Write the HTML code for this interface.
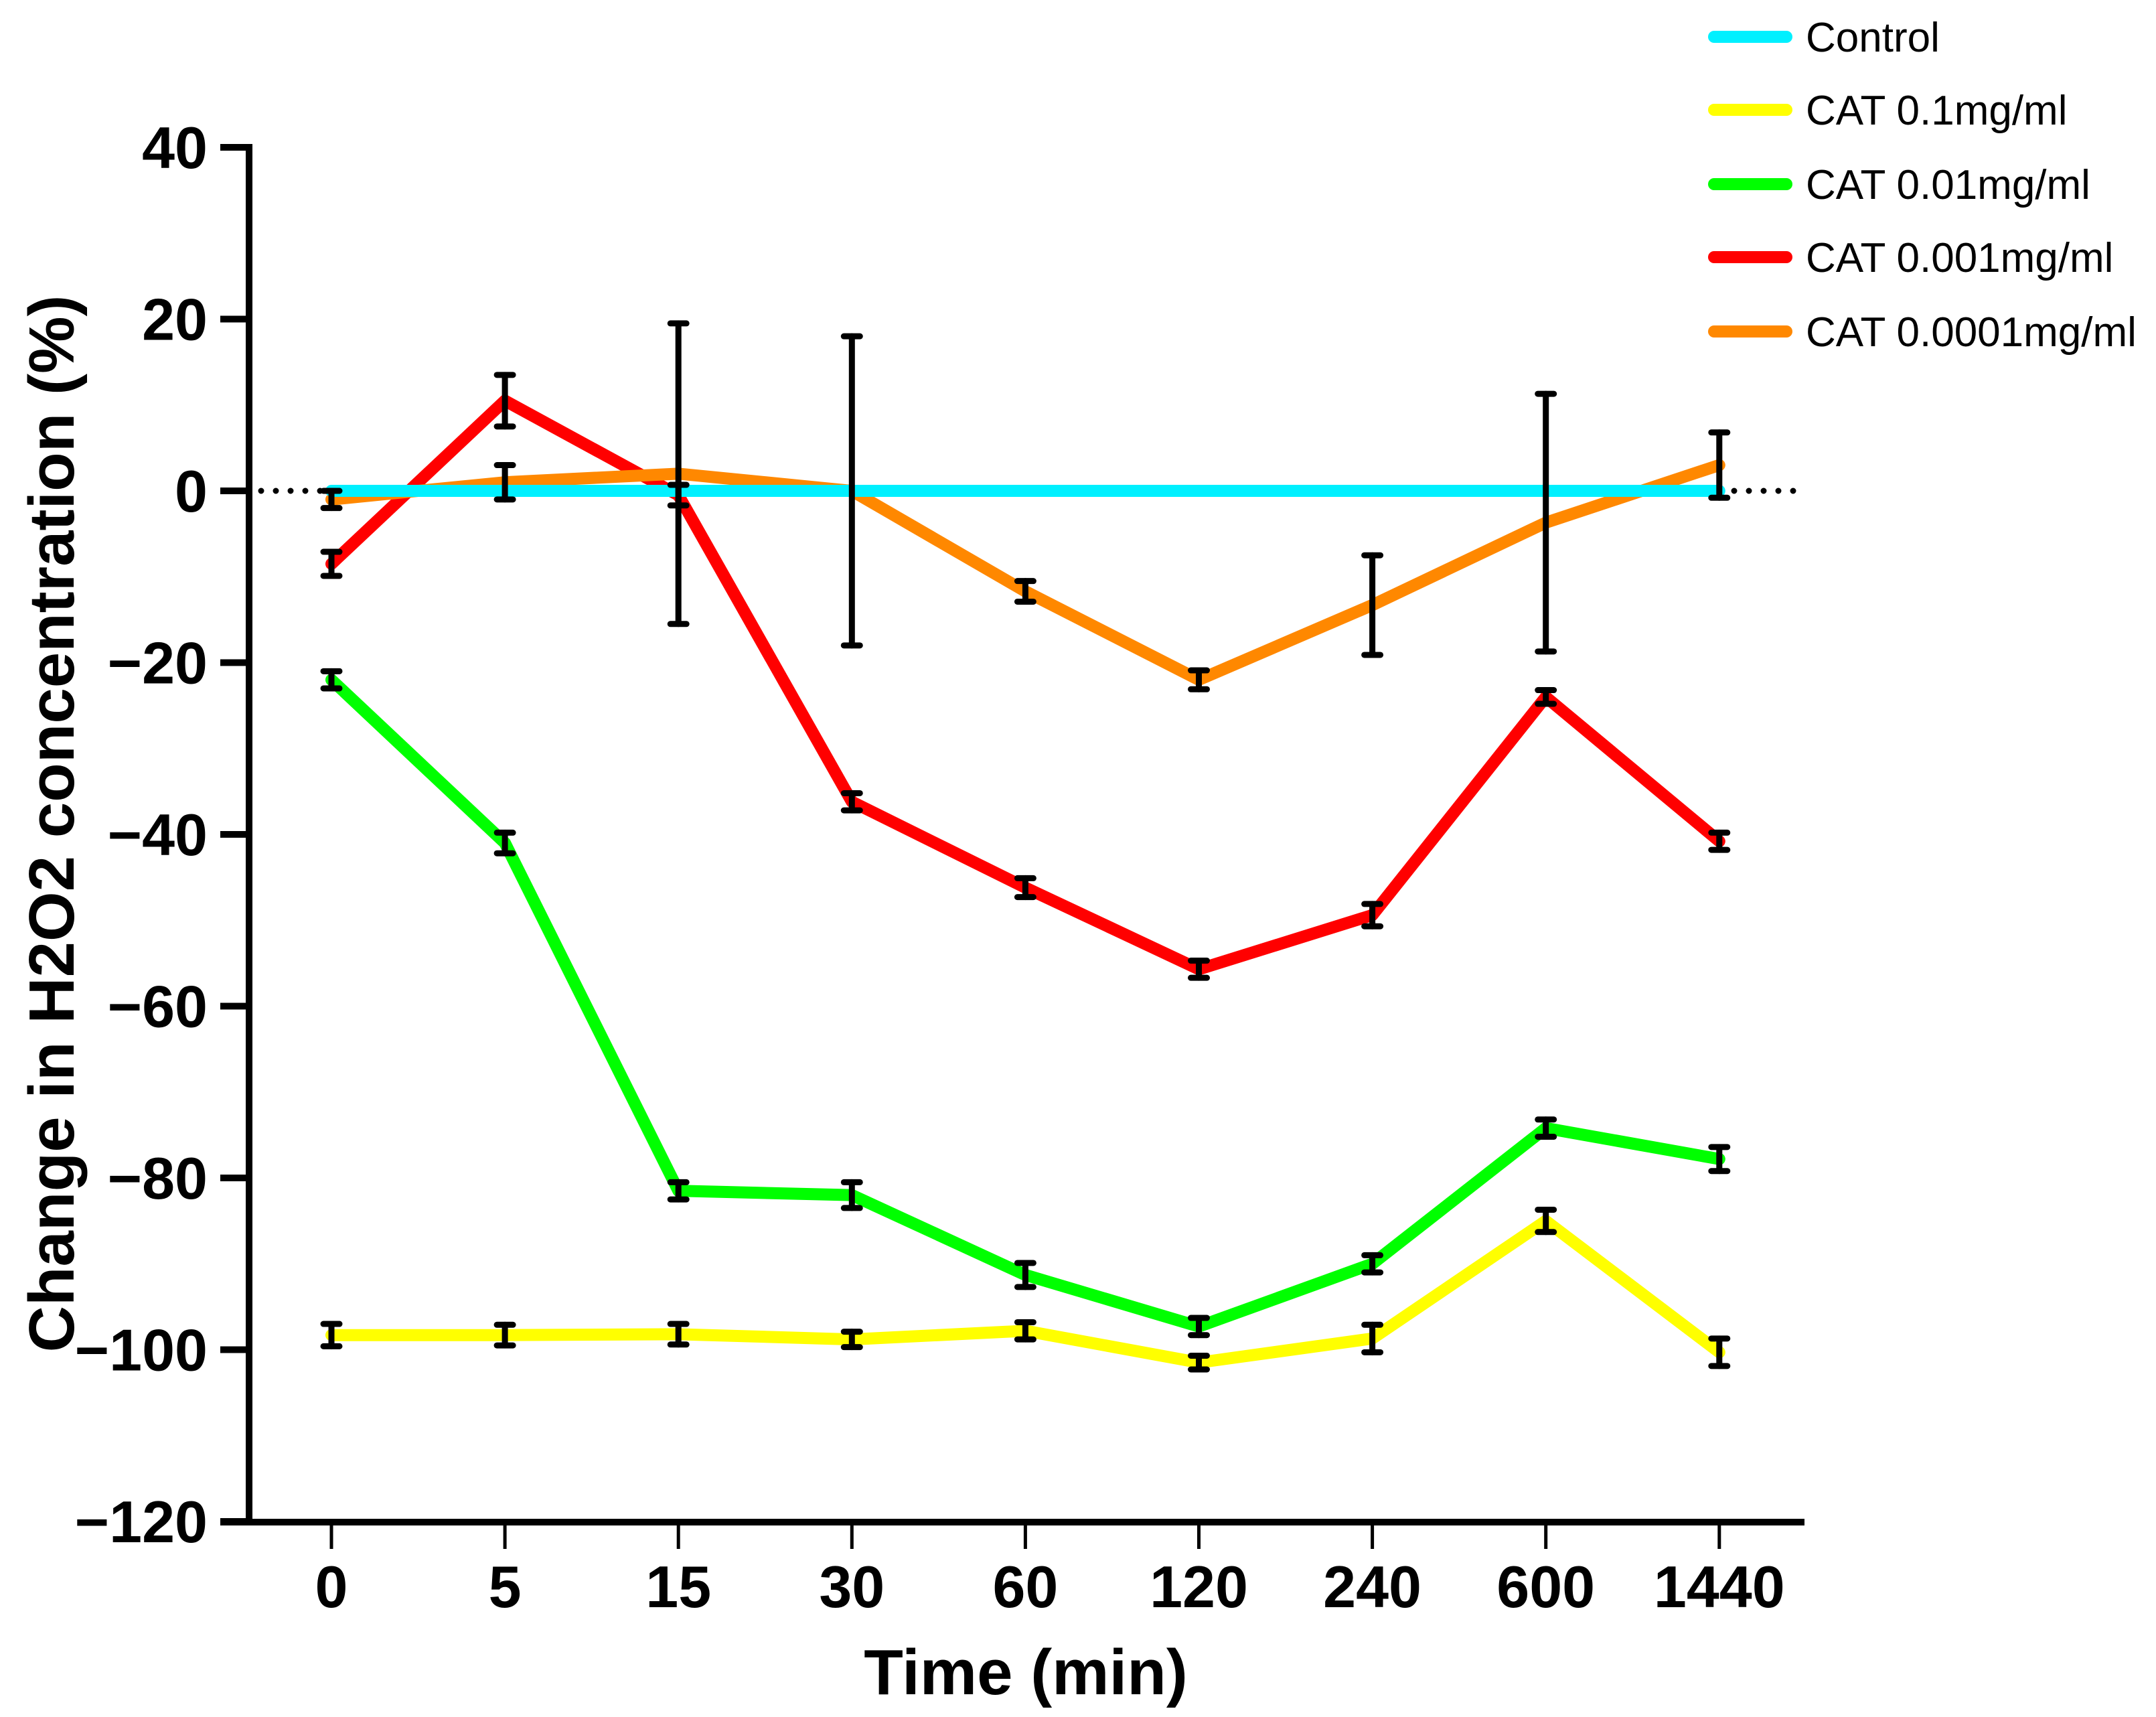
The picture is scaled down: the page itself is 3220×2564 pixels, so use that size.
<!DOCTYPE html>
<html><head><meta charset="utf-8"><style>
html,body{margin:0;padding:0;background:#fff;}
svg{display:block;font-family:"Liberation Sans",Arial,sans-serif;}
</style></head><body>
<svg id="chart" width="3220" height="2564" viewBox="0 0 3220 2564" xmlns="http://www.w3.org/2000/svg">
<g id="plot"></g>
<g id="axes"></g>
<g id="legend"></g>
</svg>
<script>
const categories = ["0","5","15","30","60","120","240","600","1440"];
const yTicks = [40,20,0,-20,-40,-60,-80,-100,-120];
const seriesNames = ["Control","CAT 0.1mg/ml","CAT 0.01mg/ml","CAT 0.001mg/ml","CAT 0.0001mg/ml"];
const seriesColors = ["#00f0ff","#ffff00","#00ff00","#ff0000","#ff8800"];
const controlVals = [0,0,0,0,0,0,0,0,0];
const controlErr = [0,0,0,0,0,0,0,0,0];
const cat01Vals = [-98.3,-98.3,-98.2,-98.8,-97.8,-101.5,-98.7,-85,-100.3];
const cat01Err = [1.3,1.2,1.2,0.9,1.0,0.8,1.6,1.3,1.6];
const cat001Vals = [-22,-41,-81.5,-82,-91.3,-97.3,-90,-74.2,-77.8];
const cat001Err = [1.0,1.2,1.0,1.5,1.4,1.0,1.0,1.0,1.4];
const cat0001Vals = [-8.5,10.5,-0.5,-36.2,-46.2,-55.7,-49.4,-24,-40.8];
const cat0001Err = [1.4,3.0,1.2,1.0,1.1,1.0,1.3,0.8,1.0];
const cat00001Vals = [-1,1,2,0,-11.7,-22,-13.3,-3.7,3];
const cat00001Err = [1.0,2.0,17.5,18,1.2,1.1,5.8,15,3.8];

const NS="http://www.w3.org/2000/svg";
const x0=495, dx=259.1;
function xs(i){return x0+i*dx;}
function ys(v){return 733-(v)*(2272-733)/120;}
function mk(tag,attrs,parent){const e=document.createElementNS(NS,tag);for(const k in attrs)e.setAttribute(k,attrs[k]);parent.appendChild(e);return e;}
const plot=document.getElementById('plot'), axes=document.getElementById('axes'), legend=document.getElementById('legend');

let zl=mk('line',{x1:390,x2:2693,y1:ys(0),y2:ys(0),stroke:'#000','stroke-width':9,'stroke-dasharray':'0 22','stroke-linecap':'round'},plot);



const allVals=[controlVals,cat01Vals,cat001Vals,cat0001Vals,cat00001Vals];
const allErr=[controlErr,cat01Err,cat001Err,cat0001Err,cat00001Err];
const order=[1,2,3,4,0];
const slugs=['control','cat-0.1','cat-0.01','cat-0.001','cat-0.0001'];
order.forEach(s=>{
  const pts=allVals[s].map((v,i)=>xs(i)+','+ys(v)).join(' ');
  const pl=mk('polyline',{points:pts,fill:'none',stroke:seriesColors[s],'stroke-width':18,'stroke-linejoin':'round','stroke-linecap':'round'},plot);
  
  
});
[1,2,3,4].forEach(s=>{
  allVals[s].forEach((v,i)=>{
    const e=allErr[s][i];
    const g=mk('g',{stroke:'#000','stroke-width':9,'stroke-linecap':'round'},plot);
    
    
    mk('line',{x1:xs(i),x2:xs(i),y1:ys(v+e),y2:ys(v-e)},g);
    mk('line',{x1:xs(i)-12,x2:xs(i)+12,y1:ys(v+e),y2:ys(v+e)},g);
    mk('line',{x1:xs(i)-12,x2:xs(i)+12,y1:ys(v-e),y2:ys(v-e)},g);
  });
});

let ya=mk('line',{x1:372,x2:372,y1:ys(40)-5,y2:2278,stroke:'#000','stroke-width':10},axes);


let xa=mk('line',{x1:329,x2:2695,y1:2273,y2:2273,stroke:'#000','stroke-width':10},axes);


yTicks.forEach(t=>{
  mk('line',{x1:329,x2:372,y1:ys(t),y2:ys(t),stroke:'#000','stroke-width':10},axes);
  const tx=mk('text',{x:310,y:ys(t)+31,'text-anchor':'end','font-size':88,'font-weight':'bold',fill:'#000'},axes);
  tx.textContent=(t<0?'\u2212':'')+Math.abs(t);
  
  
});
categories.forEach((c,i)=>{
  mk('line',{x1:xs(i),x2:xs(i),y1:2273,y2:2313,stroke:'#000','stroke-width':5},axes);
  const tx=mk('text',{x:xs(i),y:2400,'text-anchor':'middle','font-size':88,'font-weight':'bold',fill:'#000'},axes);
  tx.textContent=c;
  
  
});
let xt=mk('text',{x:1532,y:2530,'text-anchor':'middle','font-size':96,'font-weight':'bold',fill:'#000'},axes);
xt.textContent='Time (min)';


let yt=mk('text',{x:0,y:0,'text-anchor':'middle','font-size':96,'font-weight':'bold',fill:'#000',transform:'translate(110,1230) rotate(-90)'},axes);
yt.textContent='Change in H2O2 concentration (%)';



const ly=[55,164,275,384,495];
seriesNames.forEach((n,s)=>{
  const g=mk('g',{},legend);
  
  
  mk('line',{x1:2560,x2:2668,y1:ly[s],y2:ly[s],stroke:seriesColors[s],'stroke-width':18,'stroke-linecap':'round'},g);
  const t=mk('text',{x:2697,y:ly[s]+22,'font-size':62,fill:'#000'},g);
  t.textContent=n;
});
</script>
</body></html>
